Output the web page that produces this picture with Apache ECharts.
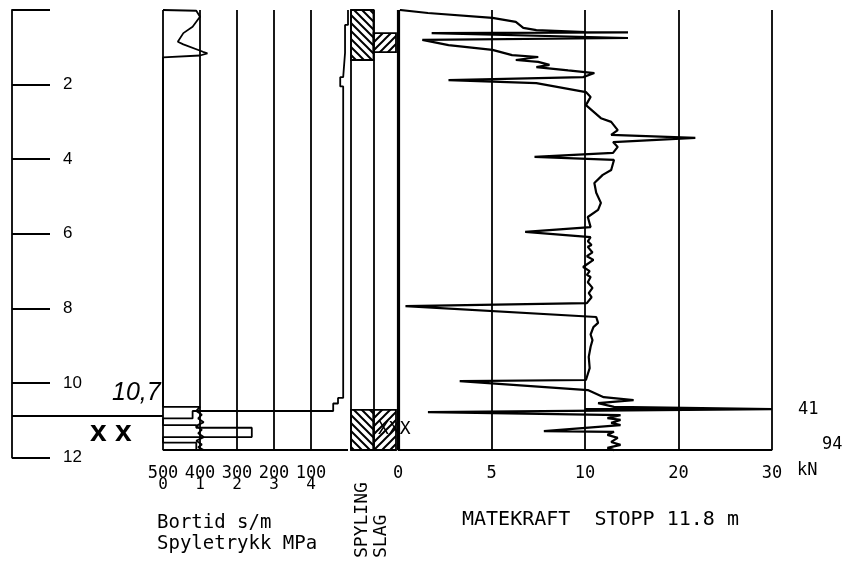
<!DOCTYPE html>
<html><head><meta charset="utf-8">
<script src="https://cdn.jsdelivr.net/npm/echarts@6/dist/echarts.min.js"></script>
<style>html,body{margin:0;padding:0;background:#fff}#c{width:845px;height:565px}</style>
</head><body><div id="c"></div>
<script>
// ---- data ----
const depthTicks = [0, 2, 4, 6, 8, 10, 12];
const bortidTicks = [500, 400, 300, 200, 100];
const spyleTicks = [0, 1, 2, 3, 4];
const forceTicks = [0, 5, 10, 20, 30];
const stopDepth = 11.8;
const markDepthLeft = 10.88;   // hand-written 10,7 marker line
const markDepthForce = 10.7;   // force off-scale line
// Bortid s/m : [value, depth m]
const bortid = [[0,0],[0,0.4],[8,0.4],[8,1.15],[13,1.15],[13,1.8],[21,1.8],[21,2.05],[13,2.05],[13,10.4],[27,10.4],[27,10.55],[40,10.55],[40,10.75],[420,10.75],[420,10.95],[500,10.95],[500,11.13],[410,11.13],[410,11.2],[260,11.2],[260,11.45],[500,11.45],[500,11.6],[410,11.6],[410,11.8]];
// Spyletrykk MPa : [value, depth m]
const spyle = [[0,0],[0.9,0.02],[1.0,0.18],[0.8,0.45],[0.55,0.62],[0.4,0.85],[0.55,0.92],[1.08,1.12],[1.2,1.16],[1.0,1.22],[1.0,1.27],[0,1.27],[0,10.64],[1.0,10.64],[0.9,10.75],[1.05,10.85],[0.95,10.95],[1.1,11.05],[0.9,11.15],[1.05,11.25],[0.95,11.35],[1.1,11.45],[0.9,11.55],[1.05,11.65],[0.95,11.72],[1.1,11.8]];
// Spyling / Slag intervals [from, to] m
const spyling = [[0, 1.34], [10.72, 11.8]];
const slag = [[0.62, 1.13], [10.72, 11.8]];
// Matekraft kN : [value, depth m]
const force = [[0.1,0.0],[1.6,0.08],[5.05,0.21],[6.3,0.32],[6.7,0.48],[7.4,0.54],[10.1,0.59],[14.6,0.6],[1.8,0.62],[14.6,0.75],[1.3,0.8],[2.7,0.94],[5.05,1.07],[6.1,1.21],[7.5,1.26],[6.3,1.34],[7.5,1.39],[8.1,1.47],[7.4,1.53],[9.1,1.62],[11.0,1.69],[9.9,1.8],[2.7,1.88],[7.4,1.96],[10.1,2.2],[10.6,2.33],[10.1,2.55],[11.7,2.9],[12.8,3.0],[13.5,3.22],[12.8,3.35],[21.8,3.43],[13.0,3.54],[13.5,3.67],[13.0,3.83],[7.3,3.94],[13.1,4.02],[12.8,4.29],[11.9,4.42],[11.0,4.64],[11.2,4.9],[11.7,5.17],[11.4,5.36],[10.3,5.55],[10.6,5.82],[6.8,5.95],[10.6,6.09],[10.3,6.2],[10.7,6.3],[10.3,6.35],[10.8,6.5],[10.2,6.6],[10.9,6.7],[9.9,6.89],[10.5,7.0],[10.2,7.1],[10.6,7.16],[10.3,7.3],[10.8,7.45],[10.4,7.59],[10.7,7.7],[10.2,7.86],[0.4,7.94],[11.2,8.23],[11.4,8.39],[10.9,8.5],[10.6,8.7],[10.8,8.85],[10.6,9.03],[10.4,9.3],[10.5,9.6],[10.2,9.84],[10.1,9.92],[3.3,9.95],[10.3,10.19],[12.0,10.38],[15.2,10.46],[11.4,10.54],[13.1,10.64],[41,10.7],[1.6,10.78],[13.8,10.86],[12.4,10.94],[13.8,10.99],[12.8,11.07],[13.8,11.13],[7.8,11.29],[13.1,11.31],[12.4,11.39],[13.5,11.47],[12.8,11.58],[13.8,11.66],[12.4,11.74],[13.1,11.8]];
const offScale = [{text:'41', depth:10.7}, {text:'94', depth:11.65}];

// ---- helpers ----
const MONO = "'DejaVu Sans Mono', monospace";
// broken force scale: 0-10 linear, 10-30 at half scale
function fx(v){ v = Math.min(v, 30); return v <= 10 ? v : 10 + (v - 10) / 2; }
function fxInv(t){ return t <= 10 ? t : 10 + (t - 10) * 2; }
function hatch(dir){
  const s = 8, c = document.createElement('canvas'); c.width = s; c.height = s;
  const g = c.getContext('2d'); g.strokeStyle = '#000'; g.lineWidth = 2;
  g.beginPath();
  if (dir === 'back'){ g.moveTo(-2,-2); g.lineTo(s+2,s+2); g.moveTo(-2,s-2); g.lineTo(2,s+2); g.moveTo(s-2,-2); g.lineTo(s+2,2); }
  else { g.moveTo(-2,s+2); g.lineTo(s+2,-2); g.moveTo(-2,2); g.lineTo(2,-2); g.moveTo(s-2,s+2); g.lineTo(s+2,s-2); }
  g.stroke();
  return {type:'pattern', image:c, repeat:'repeat'};
}
const patBack = hatch('back'), patFwd = hatch('fwd');

const TOP = 10, H = 447.6;
const grids = [
  {left:12, top:TOP, width:151, height:H},
  {left:163, top:TOP, width:185, height:H},
  {left:351, top:TOP, width:45, height:H},
  {left:398, top:TOP, width:374, height:H}
];
const yAxes = grids.map((g, i) => ({
  type:'value', gridIndex:i, min:0, max:12, interval:2, inverse:true,
  show: i === 0,
  axisLine:{show:true, lineStyle:{color:'#000', width:1.8}},
  axisTick:{show:true, inside:true, length:38, lineStyle:{color:'#000', width:1.8}},
  axisLabel:{show:true, inside:true, margin:51, color:'#000', fontFamily:"'Liberation Sans', Arial, sans-serif", fontSize:17,
    padding:[0,0,10,0], formatter: v => (v === 0 ? '' : String(v))},
  splitLine:{show:false}
}));
const noAxis = {axisLine:{show:false}, axisTick:{show:false}, splitLine:{show:false}};
const xAxes = [
  Object.assign({type:'value', gridIndex:0, min:0, max:1, show:false}, noAxis),
  Object.assign({type:'value', gridIndex:1, min:0, max:500, interval:100, inverse:true, position:'bottom',
    axisLabel:{color:'#000', fontFamily:MONO, fontSize:17, margin:7, formatter: v => (bortidTicks.includes(v) ? String(v) : '')}}, noAxis),
  Object.assign({type:'value', gridIndex:1, min:0, max:5, interval:1, position:'bottom', offset:12,
    axisLabel:{color:'#000', fontFamily:MONO, fontSize:16, margin:7, formatter: v => (spyleTicks.includes(v) ? String(v) : '')}}, noAxis),
  Object.assign({type:'value', gridIndex:2, min:0, max:2, show:false}, noAxis),
  Object.assign({type:'value', gridIndex:3, min:0, max:20, interval:5, position:'bottom',
    axisLabel:{color:'#000', fontFamily:MONO, fontSize:17, margin:7, formatter: v => { const k = fxInv(v); return forceTicks.includes(k) ? String(k) : ''; }}}, noAxis)
];

const lineStyleBlack = w => ({color:'#000', width:w, type:'solid', opacity:1});
function segs(list){ return list.map(c => ({coords:c})); }

// frame lines
const frameLeft = segs([[[0, markDepthLeft],[1, markDepthLeft]]]);
const frameB = segs(
  bortidTicks.map(v => [[v, 0],[v, stopDepth]]).concat([[[500, stopDepth],[0, stopDepth]]])
);
const frameC = segs([[[0,0],[0,stopDepth]], [[1,0],[1,stopDepth]], [[0,stopDepth],[2,stopDepth]]]);
const frameD = segs(
  forceTicks.filter(v => v > 0).map(v => [[fx(v), 0],[fx(v), stopDepth]])
    .concat([[[0, stopDepth],[fx(30), stopDepth]], [[fx(10), markDepthForce],[fx(30), markDepthForce]]])
);

const hatchData = spyling.map(r => [0, r[0], r[1]]).concat(slag.map(r => [1, r[0], r[1]]));

const option = {
  animation:false,
  backgroundColor:'#fff',
  grid:grids, xAxis:xAxes, yAxis:yAxes,
  series:[
    {type:'lines', coordinateSystem:'cartesian2d', xAxisIndex:0, yAxisIndex:0, data:frameLeft, lineStyle:lineStyleBlack(2), silent:true},
    {type:'lines', coordinateSystem:'cartesian2d', xAxisIndex:1, yAxisIndex:1, data:frameB, lineStyle:lineStyleBlack(1.8), silent:true},
    {type:'lines', coordinateSystem:'cartesian2d', xAxisIndex:3, yAxisIndex:2, data:frameC, lineStyle:lineStyleBlack(1.8), silent:true},
    {type:'lines', coordinateSystem:'cartesian2d', xAxisIndex:4, yAxisIndex:3, data:frameD, lineStyle:lineStyleBlack(1.8), silent:true},
    {type:'custom', xAxisIndex:3, yAxisIndex:2, data:hatchData, silent:true,
      renderItem:(params, api) => {
        const col = api.value(0), d0 = api.value(1), d1 = api.value(2);
        const p0 = api.coord([col, d0]), p1 = api.coord([col + 1, d1]);
        return {type:'rect', shape:{x:p0[0], y:p0[1], width:p1[0]-p0[0], height:p1[1]-p0[1]},
          style:{fill: col === 0 ? patBack : patFwd, stroke:'#000', lineWidth:1.8}};
      }},
    {name:'Bortid', type:'line', xAxisIndex:1, yAxisIndex:1, data:bortid, symbol:'none', lineStyle:lineStyleBlack(1.8), silent:true},
    {name:'Spyletrykk', type:'line', xAxisIndex:2, yAxisIndex:1, data:spyle, symbol:'none', lineStyle:lineStyleBlack(1.8), silent:true},
    {name:'Matekraft', type:'line', xAxisIndex:4, yAxisIndex:3, data:force.map(p => [fx(p[0]), p[1]]), symbol:'none', lineStyle:lineStyleBlack(2.2), silent:true,
      markLine:{symbol:'none', silent:true, label:{show:false}, lineStyle:lineStyleBlack(3.2),
        data:[[{coord:[0,0]},{coord:[0,stopDepth]}]]},
      markPoint:{symbol:'circle', symbolSize:0, silent:true,
        data: offScale.map(o => ({coord:[fx(30), o.depth], value:o.text,
          label:{show:true, formatter:o.text, position:'right', distance: o.text === '41' ? 26 : 50, color:'#000', fontFamily:MONO, fontSize:17}}))}
    }
  ],
  graphic:[
    {type:'text', left:378, top:420, style:{text:'XXX', font:"18px 'DejaVu Sans Mono'", fill:'#000'}},
    {type:'text', left:797, top:462, style:{text:'kN', font:"17px 'DejaVu Sans Mono'", fill:'#000'}},
    {type:'text', left:157, top:514, style:{text:'Bortid s/m', font:"19px 'DejaVu Sans Mono'", fill:'#000'}},
    {type:'text', left:157, top:535, style:{text:'Spyletrykk MPa', font:"19px 'DejaVu Sans Mono'", fill:'#000'}},
    {type:'text', x:362, y:558, rotation:Math.PI/2, style:{text:'SPYLING', font:"18px 'DejaVu Sans Mono'", fill:'#000', textAlign:'left', textVerticalAlign:'middle'}},
    {type:'text', x:381, y:558, rotation:Math.PI/2, style:{text:'SLAG', font:"18px 'DejaVu Sans Mono'", fill:'#000', textAlign:'left', textVerticalAlign:'middle'}},
    {type:'text', left:462, top:510, style:{text:'MATEKRAFT  STOPP 11.8 m', font:"20px 'DejaVu Sans Mono'", fill:'#000'}},
    {type:'text', left:112, top:381, style:{text:'10,7', font:"italic 25px 'Liberation Sans'", fill:'#000'}},
    {type:'text', left:90, top:418, style:{text:'x x', font:"bold 30px 'Liberation Sans'", fill:'#000'}}
  ]
};
const chart = echarts.init(document.getElementById('c'), null, {renderer:'canvas'});
chart.setOption(option);
</script></body></html>
